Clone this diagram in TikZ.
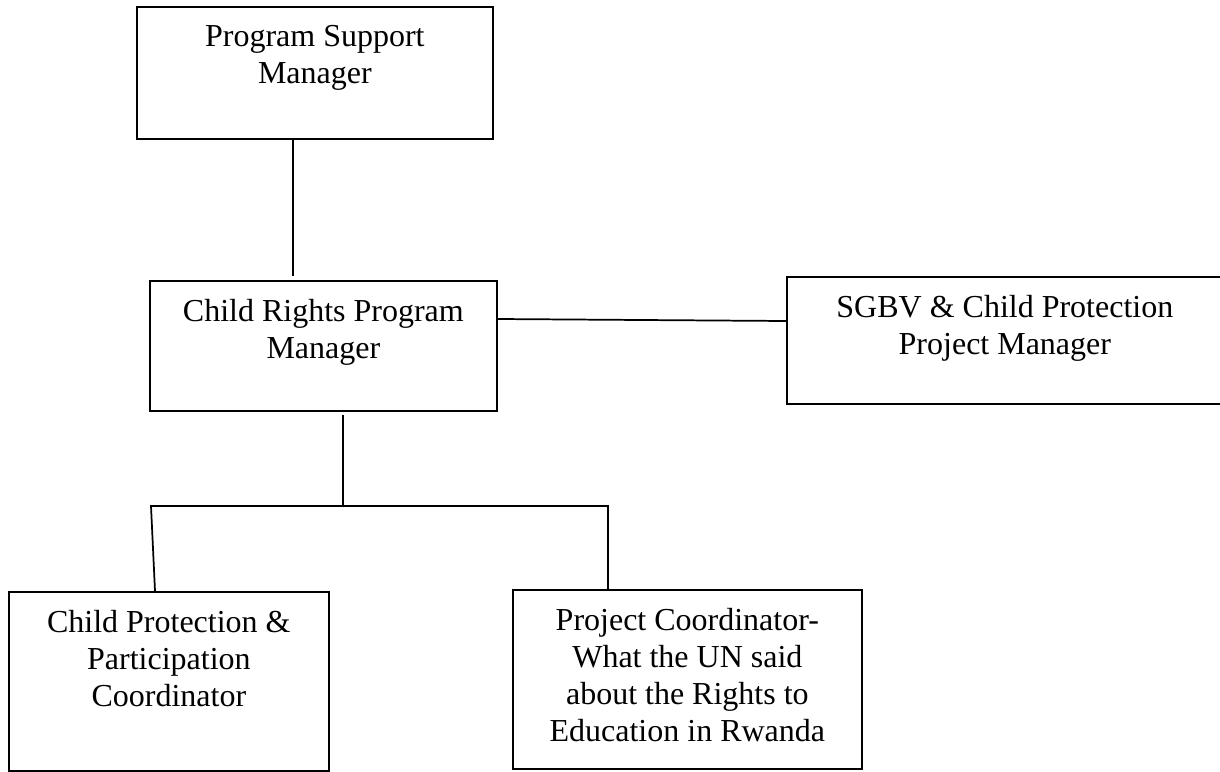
\documentclass[tikz,border=0pt]{standalone}
\usepackage{fontspec}
\setmainfont{Liberation Serif}
\usetikzlibrary{calc}
\newlength\unitpx
\setlength\unitpx{0.75pt}
\newcommand\boxtext[3]{\parbox[t][#2\unitpx][t]{#1\unitpx}{\vspace*{14pt}\centering #3\par}}
\tikzset{
  orgbox/.style={draw=black, line width=1.3pt, inner sep=0pt, anchor=north west,
    font=\fontsize{24}{27.75}\selectfont},
  conn/.style={draw=black, line width=1.3pt}
}
\begin{document}
\begin{tikzpicture}[x=0.75pt, y=-0.75pt]
\clip (0,0) rectangle (1220,771);
\fill[white] (0,0) rectangle (1220,771);
\node[orgbox] (psm) at (136,6) {\boxtext{356}{132}{Program Support\\Manager}};
\node[orgbox] (crpm) at (149,280) {\boxtext{347}{130}{Child Rights Program\\Manager}};
\node[orgbox] (sgbv) at (786,276) {\boxtext{436}{127}{SGBV \& Child Protection\\Project Manager}};
\node[orgbox] (cpp) at (8,591) {\boxtext{320}{179}{Child Protection \&\\Participation\\Coordinator}};
\node[orgbox] (pc) at (512,589) {\boxtext{349}{179}{Project Coordinator-\\What the UN said\\about the Rights to\\Education in Rwanda}};
\coordinate (a1) at (293,0);
\coordinate (m) at (343,507);
\coordinate (bl) at (151,506);
\coordinate (br) at (608,506);
\coordinate (dl) at (155,0);
\draw[conn, shorten >=3pt] (psm.south -| a1) -- (crpm.north -| a1);
\draw[conn] ($(crpm.north east)+(0,39)$) -- ($(sgbv.north west)+(0,45)$);
\draw[conn, shorten <=2.5pt] (crpm.south -| m) -- (m);
\draw[conn] (cpp.north -| dl) -- (bl) -- (br) -- (pc.north -| br);
\end{tikzpicture}
\end{document}
